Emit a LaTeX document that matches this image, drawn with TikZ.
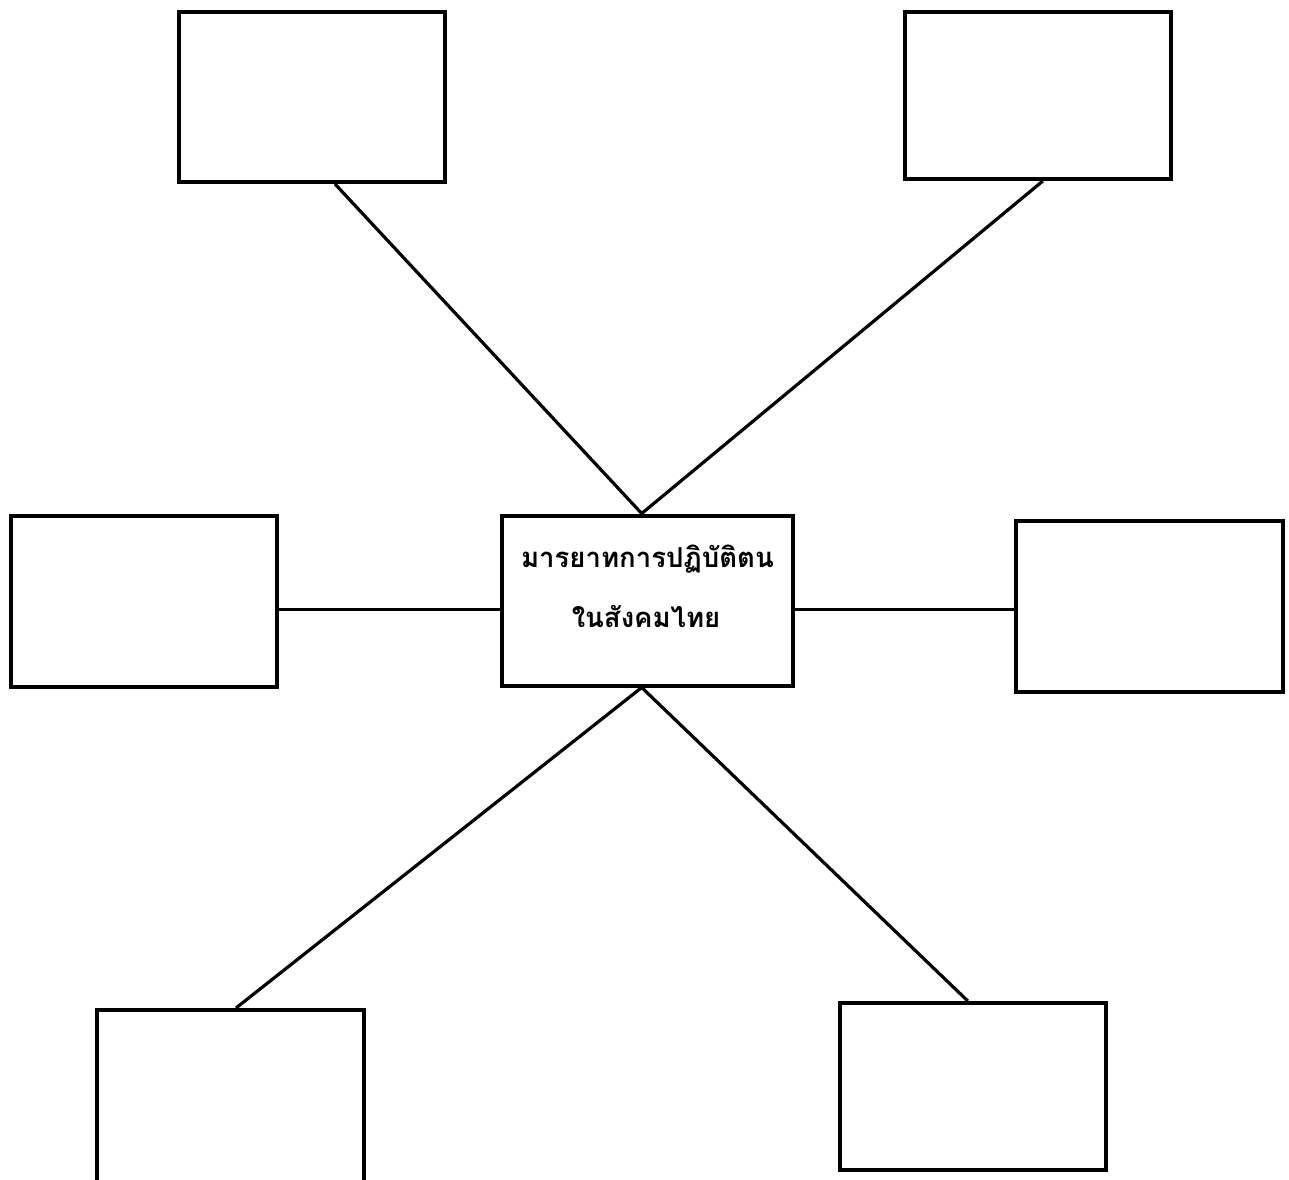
\documentclass[tikz,border=0pt]{standalone}
\usepackage{fontspec}
\newfontfamily\thaifont[Script=Thai]{Loma}
\usetikzlibrary{calc}
\tikzset{
  box/.style={draw=black, line width=4pt, rectangle, inner sep=0pt, fill=white},
  link/.style={draw=black, line width=3.2pt},
  maintext/.style={font=\thaifont\bfseries\fontsize{27.5}{34}\selectfont, inner sep=0pt}
}
\begin{document}
\begin{tikzpicture}[x=1pt,y=-1pt]
\useasboundingbox (0,0) rectangle (1289,1179);
\clip (0,0) rectangle (1289,1179);
\fill[white] (0,0) rectangle (1289,1179);
\node[box, minimum width=266pt, minimum height=170pt] (tl) at (312,97) {};
\node[box, minimum width=266pt, minimum height=167pt] (tr) at (1037.8,95.5) {};
\node[box, minimum width=266.3pt, minimum height=171.3pt] (l) at (144.2,601.3) {};
\node[box, minimum width=290.7pt, minimum height=170pt] (c) at (647.7,600.5) {};
\node[box, minimum width=266.7pt, minimum height=171pt] (r) at (1149.3,606.2) {};
\node[box, minimum width=267pt, minimum height=176pt] (bl) at (230.5,1098) {};
\node[box, minimum width=265.7pt, minimum height=167pt] (br) at (972.8,1086.5) {};
\node[maintext, anchor=base] (t1) at (647.5,567) {มารยาทการปฏิบัติตน};
\node[maintext, anchor=base] (t2) at (646,627) {ในสังคมไทย};
\draw[link] ($(tl.south)+(23,0)$) -- ($(c.north)+(-6,0)$);
\draw[link] ($(tr.south)+(5,0)$) -- ($(c.north)+(-6,0)$);
\draw[link] ($(l.east)+(0,8)$) -- ($(c.west)+(0,8.8)$);
\draw[link] ($(c.east)+(0,8.8)$) -- ($(r.west)+(0,3.1)$);
\draw[link] ($(c.south)+(-6,0)$) -- ($(bl.north)+(5.5,0)$);
\draw[link] ($(c.south)+(-6,0)$) -- ($(br.north)+(-5,0)$);
\end{tikzpicture}
\end{document}
